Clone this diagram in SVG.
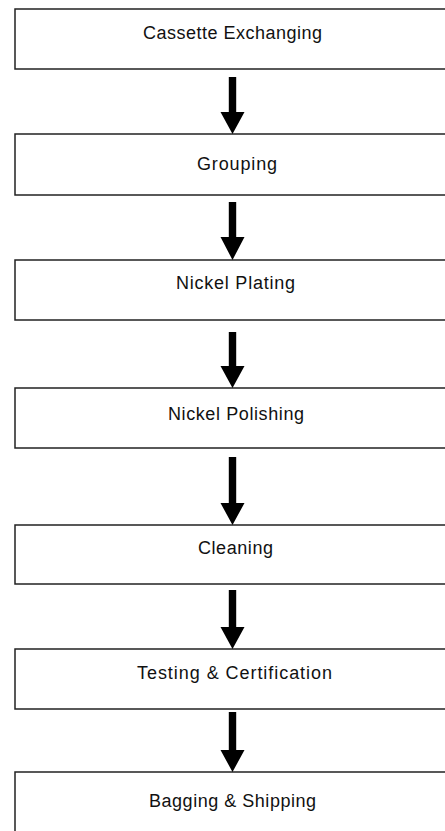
<svg xmlns="http://www.w3.org/2000/svg" width="445" height="831" viewBox="0 0 445 831">
<style>
.box{fill:#fff;stroke:#222;stroke-width:1.5}
.lbl{font-family:"Liberation Sans",Arial,sans-serif;font-size:18px;fill:#111;text-anchor:middle}
.arr{fill:#000}
</style>
<rect width="445" height="831" fill="#fff"/>
<g id="n1"><rect class="box" x="15" y="9" width="440" height="60"/><text class="lbl" x="232.5" y="39" textLength="179" lengthAdjust="spacing">Cassette Exchanging</text></g>
<g id="n2"><rect class="box" x="15" y="134" width="440" height="61"/><text class="lbl" x="237" y="170" textLength="80" lengthAdjust="spacing">Grouping</text></g>
<g id="n3"><rect class="box" x="15" y="260" width="440" height="60"/><text class="lbl" x="235.5" y="289" textLength="119" lengthAdjust="spacing">Nickel Plating</text></g>
<g id="n4"><rect class="box" x="15" y="388" width="440" height="60"/><text class="lbl" x="236" y="420" textLength="136" lengthAdjust="spacing">Nickel Polishing</text></g>
<g id="n5"><rect class="box" x="15" y="525" width="440" height="59"/><text class="lbl" x="235.5" y="554" textLength="75" lengthAdjust="spacing">Cleaning</text></g>
<g id="n6"><rect class="box" x="15" y="649" width="440" height="60"/><text class="lbl" x="234.5" y="679" textLength="195" lengthAdjust="spacing">Testing &amp; Certification</text></g>
<g id="n7"><rect class="box" x="15" y="772" width="440" height="80"/><text class="lbl" x="232.5" y="807" textLength="167" lengthAdjust="spacing">Bagging &amp; Shipping</text></g>
<g id="connectors">
<path class="arr" d="M228.8,77H236.2V112H244.5L232.5,134L220.5,112H228.8Z"/>
<path class="arr" d="M228.8,202H236.2V237H244.5L232.5,260L220.5,237H228.8Z"/>
<path class="arr" d="M228.8,332H236.2V366H244.5L232.5,388L220.5,366H228.8Z"/>
<path class="arr" d="M228.8,457H236.2V503H244.5L232.5,525L220.5,503H228.8Z"/>
<path class="arr" d="M228.8,590H236.2V627H244.5L232.5,649L220.5,627H228.8Z"/>
<path class="arr" d="M228.8,712H236.2V750H244.5L232.5,772L220.5,750H228.8Z"/>
</g>
</svg>
